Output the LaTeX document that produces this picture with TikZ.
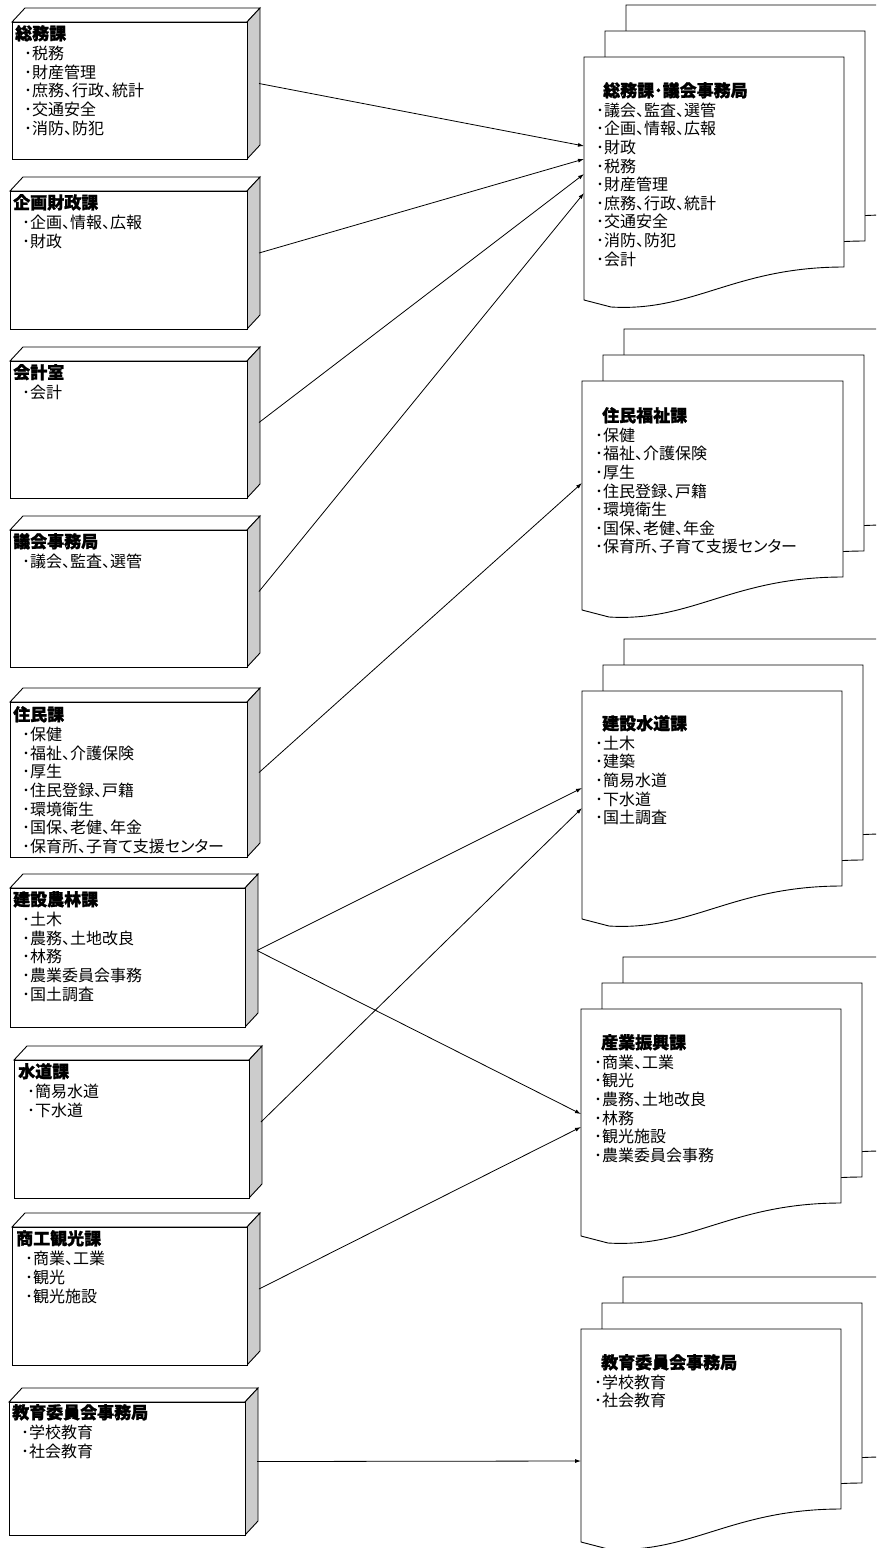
\documentclass[tikz,border=0pt]{standalone}
\usepackage{fontspec}
\setmainfont{Noto Sans CJK JP}[RawFeature=+palt]
\usetikzlibrary{arrows.meta}
\definecolor{sidegray}{RGB}{204,204,204}
\tikzset{
  face/.style={draw=black, line width=0.9pt, fill=white, line join=miter},
  sideface/.style={draw=black, line width=0.9pt, fill=sidegray},
  docface/.style={draw=black, line width=0.9pt, fill=white},
  conn/.style={draw=black, line width=0.8pt, -{Latex[length=6pt,width=4pt]}},
  lbtext/.style={anchor=north west, inner sep=0pt, align=left, font=\fontsize{16}{18.6}\selectfont},
}
% 3D box: name, L, R, T, B
\newcommand\nbox[5]{%
  \draw[face] (#2,#4) -- ({#2+13},{#4-14}) -- ({#3+13},{#4-14}) -- (#3,#4) -- cycle;
  \draw[sideface] (#3,#4) -- ({#3+13},{#4-14}) -- ({#3+13},{#5-14}) -- (#3,#5) -- cycle;
  \draw[face] (#2,#4) rectangle (#3,#5);
  \coordinate (#1) at ({#3+12},{(#4+#5)/2-7});
}
% single document sheet: L, T, R, RB
\newcommand\onedoc[4]{%
  \draw[docface] (#1,#2) -- (#3,#2) -- (#3,#4)
    .. controls ({#1+150},#4) and ({#1+110},{#4+45}) .. ({#1+27},{#4+40})
    -- (#1,{#4+33}) -- cycle;
}
% stack of three sheets
\newcommand\mdoc[4]{%
  \begin{scope}[shift={(42,-52)}]\onedoc{#1}{#2}{#3}{#4}\end{scope}
  \begin{scope}[shift={(21,-26)}]\onedoc{#1}{#2}{#3}{#4}\end{scope}
  \onedoc{#1}{#2}{#3}{#4}
}
\newcommand\heavy{\fontsize{17}{18.6}\selectfont\bfseries\addfontfeatures{FakeBold=1.2}}
\newcommand\ttl[1]{{\heavy #1}\\[1.4pt]}
\newcommand\dttl[1]{\hspace*{7pt}{\heavy #1}\\[1pt]}
\newcommand\ii{\hspace*{9pt}･}
\newcommand\jj{･}
\begin{document}
\begin{tikzpicture}[x=1pt,y=-1pt]
\clip (0,0) rectangle (876,1548);
\fill[white] (0,0) rectangle (876,1548);

% left boxes
\nbox{s1}{12}{247}{22}{159}
\nbox{s2}{10}{247}{191}{329}
\nbox{s3}{10}{247}{361}{498}
\nbox{s4}{10}{247}{530}{667}
\nbox{s5}{10}{247}{702}{857}
\nbox{s6}{10}{245}{888}{1027}
\nbox{s7}{14}{249}{1060}{1198}
\nbox{s8}{12}{247}{1227}{1365}
\nbox{s9}{9}{245}{1402}{1535}

\node[lbtext] (t1) at (15,25) {\ttl{総務課}\ii 税務\\\ii 財産管理\\\ii 庶務、行政、統計\\\ii 交通安全\\\ii 消防、防犯};
\node[lbtext] (t2) at (13,194) {\ttl{企画財政課}\ii 企画、情報、広報\\\ii 財政};
\node[lbtext] (t3) at (13,364) {\ttl{会計室}\ii 会計};
\node[lbtext] (t4) at (13,533) {\ttl{議会事務局}\ii 議会、監査、選管};
\node[lbtext] (t5) at (13,706) {\ttl{住民課}\ii 保健\\\ii 福祉、介護保険\\\ii 厚生\\\ii 住民登録、戸籍\\\ii 環境衛生\\\ii 国保、老健、年金\\\ii 保育所、子育て支援センター};
\node[lbtext] (t6) at (13,891) {\ttl{建設農林課}\ii 土木\\\ii 農務、土地改良\\\ii 林務\\\ii 農業委員会事務\\\ii 国土調査};
\node[lbtext] (t7) at (18,1063) {\ttl{水道課}\ii 簡易水道\\\ii 下水道};
\node[lbtext] (t8) at (16,1230) {\ttl{商工観光課}\ii 商業、工業\\\ii 観光\\\ii 観光施設};
\node[lbtext] (t9) at (12,1404) {\ttl{教育委員会事務局}\ii 学校教育\\\ii 社会教育};

% right document stacks
\mdoc{584}{57}{844}{267}
\mdoc{582}{381}{843}{577}
\mdoc{582}{691}{842}{886}
\mdoc{581}{1009}{841}{1203}
\mdoc{581}{1329}{841}{1509}

\node[lbtext] (da) at (596,82) {\dttl{総務課･議会事務局}\jj 議会、監査、選管\\\jj 企画、情報、広報\\\jj 財政\\\jj 税務\\\jj 財産管理\\\jj 庶務、行政、統計\\\jj 交通安全\\\jj 消防、防犯\\\jj 会計};
\node[lbtext] (db) at (595,407) {\dttl{住民福祉課}\jj 保健\\\jj 福祉、介護保険\\\jj 厚生\\\jj 住民登録、戸籍\\\jj 環境衛生\\\jj 国保、老健、年金\\\jj 保育所、子育て支援センター};
\node[lbtext] (dc) at (595,715) {\dttl{建設水道課}\jj 土木\\\jj 建築\\\jj 簡易水道\\\jj 下水道\\\jj 国土調査};
\node[lbtext] (dd) at (594,1034) {\dttl{産業振興課}\jj 商業、工業\\\jj 観光\\\jj 農務、土地改良\\\jj 林務\\\jj 観光施設\\\jj 農業委員会事務};
\node[lbtext] (de) at (594,1354) {\dttl{教育委員会事務局}\jj 学校教育\\\jj 社会教育};

% arrow targets on the document stacks
\coordinate (a1) at (584,146);
\coordinate (a2) at (584,159);
\coordinate (a3) at (584,174);
\coordinate (a4) at (584,193);
\coordinate (b1) at (582,483);
\coordinate (c1) at (582,788);
\coordinate (c2) at (582,808);
\coordinate (d1) at (581,1114);
\coordinate (d2) at (581,1127);
\coordinate (e1) at (581,1461);

\draw[conn] (s1) -- (a1);
\draw[conn] (s2) -- (a2);
\draw[conn] (s3) -- (a3);
\draw[conn] (s4) -- (a4);
\draw[conn] (s5) -- (b1);
\draw[conn] (s6) -- (c1);
\draw[conn] (s7) -- (c2);
\draw[conn] (s6) -- (d1);
\draw[conn] (s8) -- (d2);
\draw[conn] (s9) -- (e1);
\end{tikzpicture}
\end{document}
